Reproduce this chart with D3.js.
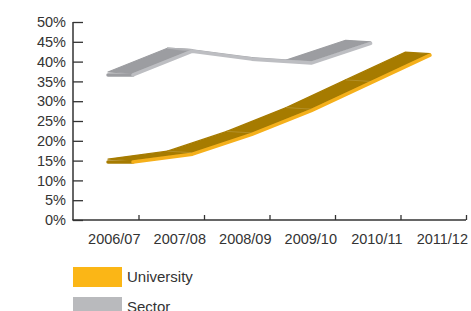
<!DOCTYPE html>
<html>
<head>
<meta charset="utf-8">
<script src="https://d3js.org/d3.v7.min.js"></script>
<style>
  body { margin: 0; background: #fff; }
  text { font-family: "Liberation Sans", Arial, Helvetica, sans-serif; fill: #333; }
</style>
</head>
<body>
<div id="chart"></div>
<script>
// Data
var years = ["2006/07", "2007/08", "2008/09", "2009/10", "2010/11", "2011/12"];
var university = [15, 17, 22, 28, 35, 42];
var sector = [37, 43, 41, 40, 45];
var yTicks = [0, 5, 10, 15, 20, 25, 30, 35, 40, 45, 50];
var seriesNames = ["University", "Sector"];

var svgWidth = 471;
var svgHeight = 311;

// depth of the 3D ribbon (back edge offset)
var depth = { x: -25, y: -1.5 };

var svg = d3.select("#chart")
	.append("svg")
	.attr("width", svgWidth)
	.attr("height", svgHeight);

// Scales
var yScale = d3.scaleLinear()
	.domain([0, 50])
	.range([220, 22]);

// tick positions on the axis
var xTick = d3.scalePoint()
	.domain(years)
	.range([138.5, 466]);

// where the ribbons sit (perspective shifted)
var xData = d3.scalePoint()
	.domain(years)
	.range([133, 430]);

// Axes
var yAxis = d3.axisLeft(yScale)
	.tickValues(yTicks)
	.tickFormat(d => d + "%")
	.tickSizeInner(-10)
	.tickSizeOuter(0)
	.tickPadding(7);

var xAxis = d3.axisBottom(xTick)
	.tickSizeInner(-5)
	.tickSizeOuter(0)
	.tickPadding(14);

var gy = svg.append("g")
	.attr("transform", "translate(73,0)")
	.call(yAxis);

var gx = svg.append("g")
	.attr("transform", "translate(0,220)")
	.call(xAxis);

svg.selectAll(".domain").remove();
svg.selectAll(".tick line").attr("stroke", "#333").attr("stroke-width", 1.3);
svg.selectAll(".tick text").attr("font-size", "14.5px").attr("fill", "#333");

gx.selectAll(".tick text")
	.attr("text-anchor", "end")
	.attr("dx", "1.5")
	.attr("y", 14)
	.attr("dy", "0.71em");

// axis lines
svg.append("line")
	.attr("x1", 73).attr("x2", 73)
	.attr("y1", yScale(50)).attr("y2", yScale(0))
	.attr("stroke", "#333").attr("stroke-width", 1.5);
svg.append("line")
	.attr("x1", 72.3).attr("x2", xTick(years[5]))
	.attr("y1", yScale(0)).attr("y2", yScale(0))
	.attr("stroke", "#333").attr("stroke-width", 1.5);

// 3D ribbon
function ribbon(values, top, under, front) {
	var g = svg.append("g");
	var pts = values.map((v, i) => ({ x: xData(years[i]), y: yScale(v) }));

	// end side on the left
	g.append("line")
		.attr("x1", pts[0].x + depth.x).attr("y1", pts[0].y + 1.5)
		.attr("x2", pts[0].x).attr("y2", pts[0].y + 1.5)
		.attr("stroke", top)
		.attr("stroke-width", 3.5)
		.attr("stroke-linecap", "round");

	// top (or under) faces, one per segment
	for (var i = 0; i < pts.length - 1; i++) {
		var a = pts[i], b = pts[i + 1];
		var cross = (b.x - a.x) * depth.y - (b.y - a.y) * depth.x;
		var face = [
			[a.x, a.y], [b.x, b.y],
			[b.x + depth.x, b.y + depth.y], [a.x + depth.x, a.y + depth.y]
		];
		var col = cross < 0 ? top : under;
		g.append("path")
			.attr("d", d3.line()(face) + "Z")
			.attr("fill", col)
			.attr("stroke", col)
			.attr("stroke-width", 1.2)
			.attr("stroke-linejoin", "round");
	}

	// fold lines on the face
	pts.slice(1, -1).forEach(p => {
		g.append("line")
			.attr("x1", p.x + depth.x).attr("y1", p.y + depth.y)
			.attr("x2", p.x).attr("y2", p.y)
			.attr("stroke", "#fff")
			.attr("stroke-opacity", 0.22)
			.attr("stroke-width", 0.7);
	});

	// front edge
	g.append("path")
		.attr("d", d3.line().x(d => d.x).y(d => d.y + 1.5)(pts))
		.attr("fill", "none")
		.attr("stroke", front)
		.attr("stroke-width", 3.5)
		.attr("stroke-linejoin", "round")
		.attr("stroke-linecap", "round");
}

ribbon(sector, "#9c9da1", "#a9aaae", "#bdbec2");
ribbon(university, "#a67b00", "#8f6a00", "#f5b01b");

// Legend
var legendColors = ["#fbb616", "#b9babd"];
var legend = svg.selectAll(".legend")
	.data(seriesNames)
	.enter()
	.append("g")
	.attr("transform", (d, i) => `translate(73, ${267 + i * 30})`);

legend.append("rect")
	.attr("width", 49)
	.attr("height", 20)
	.attr("fill", (d, i) => legendColors[i]);

legend.append("text")
	.attr("x", 54)
	.attr("y", 15)
	.attr("font-size", "15px")
	.text(d => d);
</script>
</body>
</html>
